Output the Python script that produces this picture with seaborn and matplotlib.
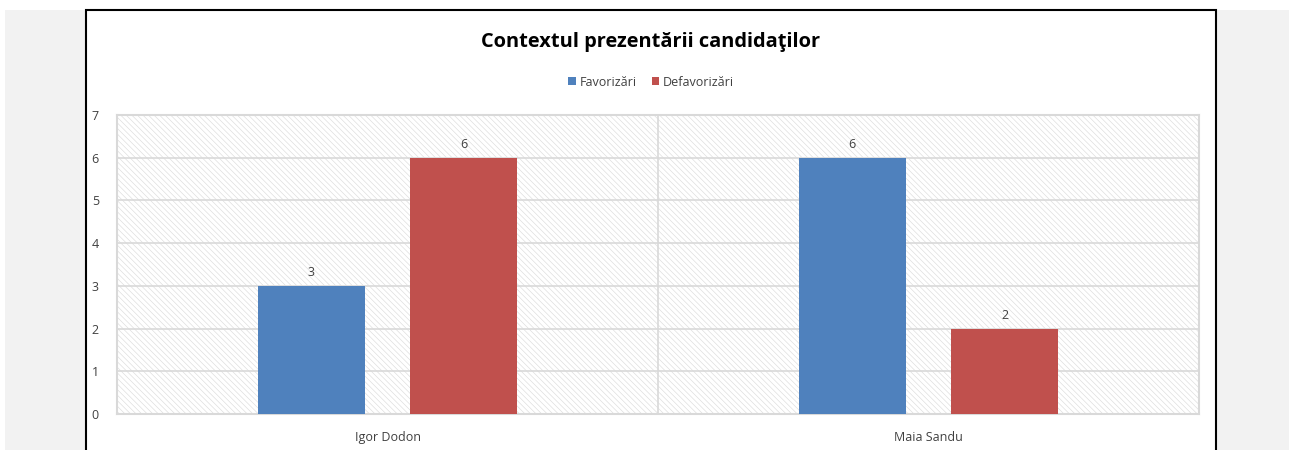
"""Contextul prezentării candidaţilor - bare grupate"""
import matplotlib
matplotlib.use("Agg")
import matplotlib.pyplot as plt
from matplotlib.patches import Rectangle
import pandas as pd
import seaborn as sns

candidates = ["Igor Dodon", "Maia Sandu"]
favorizari = [3, 6]
defavorizari = [6, 2]
series_names = ["Favorizări", "Defavorizări"]
colors = ["#4f81bd", "#c0504d"]

df = pd.DataFrame({
    "candidat": candidates * 2,
    "serie": [series_names[0]] * 2 + [series_names[1]] * 2,
    "valoare": favorizari + defavorizari,
})

sns.set_theme(style="white")
plt.rcParams["font.family"] = ["Open Sans", "DejaVu Sans"]
plt.rcParams["hatch.linewidth"] = 0.45

W, H = 1289, 450
fig = plt.figure(figsize=(W / 100, H / 100), dpi=100)
fig.patch.set_facecolor("white")

# fundal gri + cadru alb
fig.add_artist(Rectangle((5 / W, 0), 1 - 5 / W, (H - 10) / H,
                         transform=fig.transFigure, facecolor="#f2f2f2",
                         edgecolor="none", zorder=-3))
fig.add_artist(Rectangle((86 / W, -0.05), (1216 - 86) / W, (H - 10) / H + 0.05,
                         transform=fig.transFigure, facecolor="white",
                         edgecolor="black", linewidth=1.5, zorder=-2))

ax = fig.add_axes([117 / W, 36 / H, (1199 - 117) / W, (414 - 115) / H])
ax.set_facecolor("none")

# fundal hasurat al zonei de desenare
ax.add_patch(Rectangle((0, 0), 1, 1, transform=ax.transAxes, facecolor="white",
                       edgecolor="#dcdcdc", hatch="\\\\\\\\\\\\", linewidth=0,
                       zorder=0))

sns.barplot(data=df, x="candidat", y="valoare", hue="serie",
            palette=colors, saturation=1, width=0.564, gap=0.30, ax=ax,
            zorder=3, legend=True, linewidth=0)

for c in ax.containers:
    ax.bar_label(c, padding=5, fontsize=9, color="#404040")

ax.set_ylim(0, 7)
ax.set_xlim(-0.5, 1.5)
ax.set_yticks(range(0, 8))
ax.yaxis.grid(True, color="#d9d9d9", linewidth=1.2, zorder=1)
ax.axvline(0.5, color="#d9d9d9", linewidth=1.2, zorder=1)
ax.set_axisbelow(True)
for s in ax.spines.values():
    s.set_color("#d9d9d9")
    s.set_linewidth(1.5)
ax.set_xlabel("")
ax.set_ylabel("")
ax.tick_params(axis="both", length=0, labelsize=9, labelcolor="#404040")
ax.tick_params(axis="y", pad=13)
ax.tick_params(axis="x", pad=12)

fig.text(651 / W, 1 - 42 / H, "Contextul prezentării candidaţilor",
         ha="center", va="center", fontsize=14.4, fontweight="bold",
         color="black")

ax.legend(loc="center", bbox_to_anchor=(651 / W, 1 - 82 / H),
          bbox_transform=fig.transFigure, ncol=2, frameon=False,
          fontsize=9, handlelength=0.6, handleheight=0.6, handletextpad=0.3,
          columnspacing=1.2, labelcolor="#404040")

fig.savefig("out.png", dpi=100)
